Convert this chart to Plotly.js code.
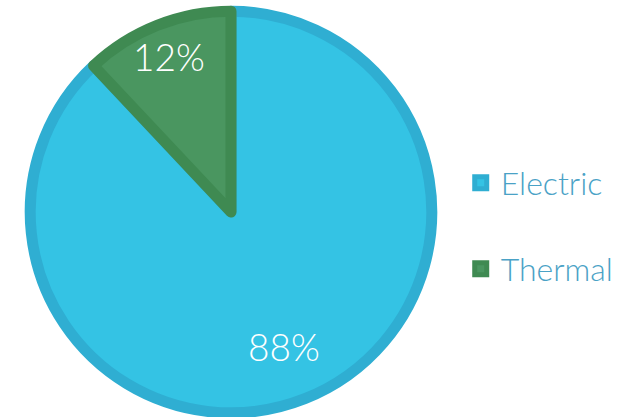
<!DOCTYPE html>
<html><head><meta charset="utf-8">
<script src="https://cdn.plot.ly/plotly-3.0.1.min.js"></script>
<style>html,body{margin:0;padding:0;background:#fff;}#chart{width:632px;height:417px;}</style>
</head><body><div id="chart"></div>
<script>
const labels = ['Electric', 'Thermal'];
const values = [88, 12];
const fillColors = ['#34C3E4', '#4A9660'];
const borderColors = ['#2FAED2', '#3F8A52'];
const labelRadius = [0.72, 0.835];

const dom = {x: [0.047, 0.684], y: [0.01, 0.973]};
const W = 632, H = 417;
const cx = (dom.x[0] + dom.x[1]) / 2, cy = (dom.y[0] + dom.y[1]) / 2;
const R = Math.min((dom.x[1] - dom.x[0]) * W, (dom.y[1] - dom.y[0]) * H) / 2;

const total = values.reduce((a, b) => a + b, 0);
let cum = 0;
const annotations = values.map((v, i) => {
  const mid = (cum + v / 2) / total * 2 * Math.PI; cum += v;
  const r = R * labelRadius[i];
  return {
    xref: 'paper', yref: 'paper',
    x: cx + r * Math.sin(mid) / W,
    y: cy + r * Math.cos(mid) / H,
    text: Math.round(v / total * 100) + '%',
    showarrow: false, xanchor: 'center', yanchor: 'middle',
    font: {family: 'Lato', size: 37, color: '#ffffff', weight: 300}
  };
});

const trace = {
  type: 'pie',
  labels: labels.map(l => l + '<br> '),
  values: values,
  sort: false,
  direction: 'clockwise',
  rotation: 0,
  marker: {colors: fillColors, line: {color: borderColors, width: 11}},
  textinfo: 'none',
  hoverinfo: 'none',
  domain: dom
};

const layout = {
  width: W, height: H,
  margin: {l: 0, r: 0, t: 0, b: 0},
  paper_bgcolor: '#ffffff',
  showlegend: true,
  annotations: annotations,
  legend: {
    x: 0.729, y: 0.408, xanchor: 'left', yanchor: 'middle',
    valign: 'top',
    font: {family: 'Lato', size: 32, color: '#4AA2C6', weight: 300},
    itemwidth: 30
  }
};

Plotly.newPlot('chart', [trace], layout, {displayModeBar: false, staticPlot: true});
</script>
</body></html>
